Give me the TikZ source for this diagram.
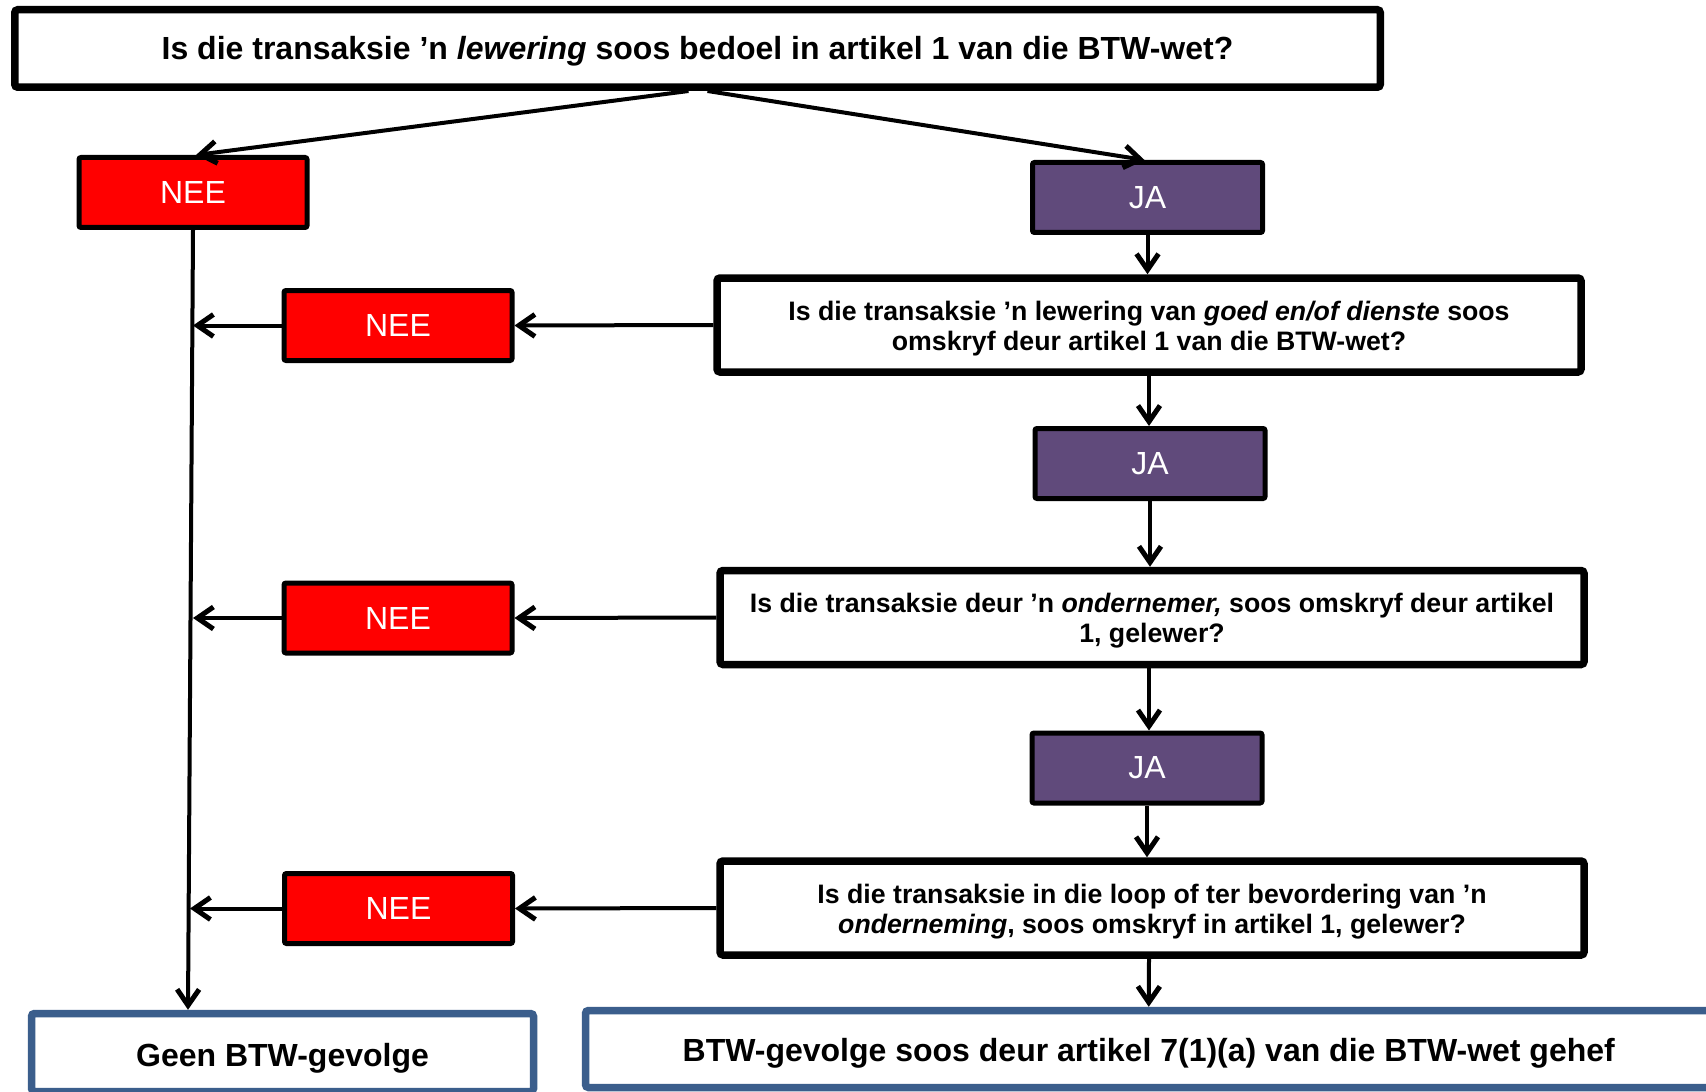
\documentclass[tikz,border=0pt]{standalone}
\usepackage{fontspec}
\setmainfont{Liberation Sans}
\usetikzlibrary{arrows.meta,calc}
\definecolor{neered}{HTML}{FF0000}
\definecolor{japurple}{HTML}{604A7B}
\definecolor{endblue}{HTML}{3B5E8C}
\newcommand\lowline[2]{\raisebox{-#1}[\height][\depth]{#2}}
\newcommand\lowlines[2]{\raisebox{-#1}[\height][\depth]{\begin{tabular}{@{}c@{}}#2\end{tabular}}}
\begin{document}
\begin{tikzpicture}[x=0.5pt,y=-0.5pt,
  qbox/.style={draw=black, line width=3.75pt, fill=white, rounded corners=1.5pt,
    minimum width=432pt, minimum height=47pt, align=center,
    font=\bfseries\fontsize{13.35}{15}\selectfont},
  topbox/.style={qbox, minimum width=682.75pt, minimum height=38.75pt,
    font=\bfseries\fontsize{16}{19}\selectfont},
  neebox/.style={draw=black, line width=2.5pt, fill=neered, rounded corners=1pt,
    minimum width=114pt, minimum height=35pt, text=white,
    font=\fontsize{16}{19}\selectfont},
  jabox/.style={neebox, fill=japurple, minimum width=115pt},
  endbox/.style={draw=endblue, line width=3.75pt, fill=white, rounded corners=1.5pt,
    minimum height=39pt, font=\bfseries\fontsize{16}{19}\selectfont},
  conn/.style={line width=2pt, -{Straight Barb[length=8pt,width=11pt,line width=2.5pt]}},
]
\useasboundingbox (0,0) rectangle (1706,1091);
\clip (0,0) rectangle (1706,1091);
\fill[white] (0,0) rectangle (1706,1091);

\node[topbox] (top) at (697.5,48.5) {\lowline{1.5pt}{Is die transaksie ’n \textit{lewering} soos bedoel in artikel 1 van die BTW-wet?}};
\node[neebox] (nee1) at (193,192.5) {NEE};
\node[jabox] (ja1) at (1147.5,197.5) {JA};
\node[qbox] (q2) at (1149,325) {\lowlines{2pt}{Is die transaksie ’n lewering van \textit{goed en/of dienste} soos\\omskryf deur artikel 1 van die BTW-wet?}};
\node[neebox] (nee2) at (398,325.5) {NEE};
\node[jabox] (ja2) at (1150,463.5) {JA};
\node[qbox] (q3) at (1152,617.5) {\lowlines{2pt}{Is die transaksie deur ’n \textit{ondernemer,} soos omskryf deur artikel\\1, gelewer?}};
\node[neebox] (nee3) at (398,618) {NEE};
\node[jabox] (ja3) at (1147,768) {JA};
\node[qbox] (q4) at (1152,908) {\lowlines{2pt}{Is die transaksie in die loop of ter bevordering van ’n\\\textit{onderneming}, soos omskryf in artikel 1, gelewer?}};
\node[neebox] (nee4) at (398.5,908.5) {NEE};
\node[endbox, minimum width=251pt] (geen) at (282.5,1052.5) {\lowline{2.7pt}{Geen BTW-gevolge}};
\node[endbox, minimum width=563.25pt, minimum height=38.5pt] (btw) at (1148.75,1049) {\lowline{2.2pt}{BTW-gevolge soos deur artikel 7(1)(a) van die BTW-wet gehef}};

\draw[conn] ($(top.south)+(-9,0)$) -- ($(nee1.north)+(3,0)$);
\draw[conn] ($(top.south)+(10,0)$) -- ($(ja1.north)+(-3,0)$);
\draw[conn] (ja1.south) -- (ja1.south |- q2.north);
\draw[conn] (q2.south) -- (q2.south |- ja2.north);
\draw[conn] (ja2.south) -- (ja2.south |- q3.north);
\draw[conn] ($(q3.south)+(-3,0)$) -- ($(ja3.north)+(2,0)$);
\draw[conn] (ja3.south) -- (ja3.south |- q4.north);
\draw[conn] ($(q4.south)+(-3,0)$) -- (btw.north);

\draw[conn] (q2.west) -- (nee2.east);
\draw[conn] (q3.west) -- (nee3.east);
\draw[conn] (q4.west) -- (nee4.east);
\draw[conn] (nee1.south) -- ($(geen.north)+(-94.5,0)$);
\draw[conn] (nee2.west) -- (nee2.west -| nee1.south);
\draw[conn] (nee3.west) -- (nee3.west -| nee1.south);
\draw[conn] (nee4.west) -- ($(nee4.west -| nee1.south)+(-3,0)$);
\end{tikzpicture}
\end{document}
